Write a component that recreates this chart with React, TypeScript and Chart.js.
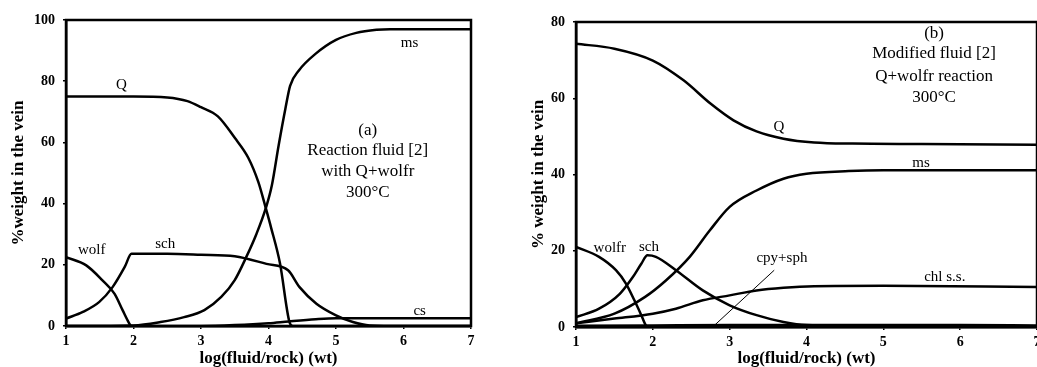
import React, { useEffect, useRef } from "react";
import { Chart, registerables } from "chart.js";
Chart.register(...registerables);

// ---------- Panel (a) data ----------
const aQx = [1, 2, 2.5, 2.8, 3.0, 3.25, 3.5, 3.7, 3.85, 3.96, 4.04, 4.17, 4.31, 4.36, 7];
const aQy = [75, 75, 74.7, 73.5, 71.5, 68.5, 61.5, 55, 47, 38.5, 32, 20.5, 1.3, 0, 0];
const aMsx = [1, 2, 2.4, 2.75, 3.05, 3.3, 3.5, 3.67, 3.82, 3.96, 4.05, 4.15, 4.25, 4.32, 4.45, 4.7, 5.0, 5.3, 5.6, 5.8, 7];
const aMsy = [0, 0.2, 1.3, 2.9, 5.2, 9.5, 15, 22.5, 30, 38.5, 46, 59, 71, 78.5, 83.5, 89, 93.5, 95.8, 96.8, 97, 97];
const aWolfx = [1, 1.3, 1.54, 1.72, 1.84, 1.93, 1.96];
const aWolfy = [22.5, 19.8, 14.9, 10.5, 5.1, 1.1, 0];
const aSchx = [1, 1.25, 1.49, 1.69, 1.87, 1.97, 2.5, 3.0, 3.5, 3.97, 4.29, 4.46, 4.71, 5.0, 5.25, 5.5, 6, 7];
const aSchy = [2.4, 4.6, 7.8, 12.7, 19.3, 23.6, 23.6, 23.3, 22.8, 20.3, 18.2, 12.7, 7.3, 3.5, 1.3, 0.2, 0, 0];
const aCsx = [1, 3, 3.5, 4, 4.3, 4.7, 5, 7];
const aCsy = [0, 0, 0.3, 0.9, 1.5, 2.2, 2.5, 2.5];

// ---------- Panel (b) data ----------
const bQx = [1, 1.5, 2.0, 2.4, 2.75, 3.05, 3.35, 3.7, 4.1, 4.6, 5.5, 7];
const bQy = [74.3, 73, 69.9, 64.7, 58.6, 54.2, 51.3, 49.4, 48.4, 48.1, 48, 47.8];
const bMsx = [1, 1.5, 1.9, 2.17, 2.48, 2.74, 3.0, 3.35, 3.7, 4.0, 4.55, 5.0, 7];
const bMsy = [1, 3.5, 7.9, 12.2, 18.4, 25.3, 31.5, 35.8, 38.9, 40.2, 40.9, 41.1, 41.1];
const bWolfrx = [1, 1.3, 1.52, 1.65, 1.76, 1.85, 1.91, 1.95];
const bWolfry = [21, 18.4, 14.9, 11.4, 7, 3.1, 0.4, 0];
const bSchx = [1, 1.3, 1.57, 1.74, 1.85, 1.93, 2.04, 2.3, 2.65, 3.0, 3.35, 3.7, 4.0, 5, 7];
const bSchy = [2.6, 4.8, 8.7, 13.1, 16.6, 18.8, 18.4, 14.9, 9.6, 5.7, 3.1, 1.3, 0.5, 0.3, 0.2];
const bChlx = [1, 1.5, 2.0, 2.3, 2.65, 3.0, 3.35, 3.7, 4.1, 5, 7];
const bChly = [1, 2.2, 3.5, 4.8, 7, 8.3, 9.6, 10.3, 10.7, 10.8, 10.5];
const bCpyx = [1, 2, 3, 4, 5, 6, 7];
const bCpyy = [0.3, 0.4, 0.5, 0.5, 0.5, 0.5, 0.4];

// ---------- Axis / text labels ----------
const xTitle = "log(fluid/rock) (wt)";
const aYTitle = "%weight in the vein";
const bYTitle = "% weight in the vein";
const aNote = ["(a)", "Reaction fluid [2]", "with Q+wolfr", "300°C"];
const bNote = ["(b)", "Modified fluid [2]", "Q+wolfr reaction", "300°C"];
const aCurveLabels = ["ms", "Q", "wolf", "sch", "cs"];
const bCurveLabels = ["Q", "ms", "wolfr", "sch", "cpy+sph", "chl s.s."];

const SERIF = "'Liberation Serif', 'Times New Roman', serif";

function pts(xs: number[], ys: number[]) {
  return xs.map((x, i) => ({ x, y: ys[i] }));
}

function ds(label: string, xs: number[], ys: number[]) {
  return {
    label,
    data: pts(xs, ys),
    borderColor: "#000",
    borderWidth: 2.5,
    pointRadius: 0,
    fill: false,
    cubicInterpolationMode: "monotone" as const,
  };
}

const boxText = {
  id: "boxText",
  afterDatasetsDraw(chart: any, _args: any, opts: any) {
    const { ctx, chartArea: a, scales } = chart;
    const x = scales.x;
    const y = scales.y;
    ctx.save();
    ctx.strokeStyle = "#000";
    ctx.lineWidth = 2.5;
    ctx.strokeRect(a.left, a.top, a.right - a.left, a.bottom - a.top);
    ctx.fillStyle = "#000";
    ctx.textAlign = "center";
    ctx.textBaseline = "middle";
    for (const t of opts.texts || []) {
      ctx.font = t.font;
      ctx.fillText(t.text, x.getPixelForValue(t.x), y.getPixelForValue(t.y));
    }
    for (const l of opts.lines || []) {
      ctx.lineWidth = 1;
      ctx.beginPath();
      ctx.moveTo(x.getPixelForValue(l[0]), y.getPixelForValue(l[1]));
      ctx.lineTo(x.getPixelForValue(l[2]), y.getPixelForValue(l[3]));
      ctx.stroke();
    }
    ctx.restore();
  },
};

function scalesCfg(yMax: number, yTitle: string, yWidth: number, xHeight: number, titlePad: number) {
  const grid = {
    display: true,
    drawOnChartArea: false,
    drawTicks: true,
    tickLength: 3,
    color: "#000",
    lineWidth: 1.5,
  };
  return {
    x: {
      type: "linear" as const,
      min: 1,
      max: 7,
      border: { display: true, color: "#000", width: 2.5 },
      grid,
      ticks: { stepSize: 1, color: "#000", padding: 4, font: { family: SERIF, size: 14, weight: "bold" as const } },
      title: { display: true, text: xTitle, color: "#000", padding: 0, font: { family: SERIF, size: 17, weight: "bold" as const, lineHeight: 1 } },
      afterFit: (s: any) => { s.height = xHeight; },
    },
    y: {
      type: "linear" as const,
      min: 0,
      max: yMax,
      border: { display: true, color: "#000", width: 2.5 },
      grid,
      ticks: { stepSize: 20, color: "#000", padding: 8, font: { family: SERIF, size: 14, weight: "bold" as const } },
      title: { display: true, text: yTitle, color: "#000", padding: { top: titlePad, bottom: 0 }, font: { family: SERIF, size: 17, weight: "bold" as const, lineHeight: 1 } },
      afterFit: (s: any) => { s.width = yWidth; },
    },
  };
}

const NOTE_FONT = "17px " + SERIF;
const LBL_FONT = "15px " + SERIF;

export default function App() {
  const aRef = useRef<HTMLCanvasElement>(null);
  const bRef = useRef<HTMLCanvasElement>(null);

  useEffect(() => {
    const chartA = new Chart(aRef.current as HTMLCanvasElement, {
      type: "line",
      data: {
        datasets: [
          ds("Q", aQx, aQy),
          ds("ms", aMsx, aMsy),
          ds("wolf", aWolfx, aWolfy),
          ds("sch", aSchx, aSchy),
          ds("cs", aCsx, aCsy),
        ],
      },
      plugins: [boxText],
      options: {
        responsive: false,
        animation: false,
        devicePixelRatio: 1,
        layout: { padding: { left: 0, top: 20, right: 46, bottom: 0 } },
        scales: scalesCfg(100, aYTitle, 66, 41, 10),
        plugins: {
          legend: { display: false },
          tooltip: { enabled: false },
          boxText: {
            texts: [
              { text: aNote[0], x: 5.47, y: 63.9, font: NOTE_FONT },
              { text: aNote[1], x: 5.47, y: 57.3, font: NOTE_FONT },
              { text: aNote[2], x: 5.47, y: 50.5, font: NOTE_FONT },
              { text: aNote[3], x: 5.47, y: 43.6, font: NOTE_FONT },
              { text: aCurveLabels[0], x: 6.09, y: 92.3, font: LBL_FONT },
              { text: aCurveLabels[1], x: 1.82, y: 78.9, font: LBL_FONT },
              { text: aCurveLabels[2], x: 1.38, y: 24.7, font: LBL_FONT },
              { text: aCurveLabels[3], x: 2.47, y: 26.7, font: LBL_FONT },
              { text: aCurveLabels[4], x: 6.24, y: 4.8, font: LBL_FONT },
            ],
          },
        } as any,
      },
    });

    const chartB = new Chart(bRef.current as HTMLCanvasElement, {
      type: "line",
      data: {
        datasets: [
          ds("Q", bQx, bQy),
          ds("ms", bMsx, bMsy),
          ds("wolfr", bWolfrx, bWolfry),
          ds("sch", bSchx, bSchy),
          ds("chl s.s.", bChlx, bChly),
          ds("cpy+sph", bCpyx, bCpyy),
        ],
      },
      plugins: [boxText],
      options: {
        responsive: false,
        animation: false,
        devicePixelRatio: 1,
        layout: { padding: { left: 0, top: 22, right: 40, bottom: 0 } },
        scales: scalesCfg(80, bYTitle, 59, 40, 13),
        plugins: {
          legend: { display: false },
          tooltip: { enabled: false },
          boxText: {
            texts: [
              { text: bNote[0], x: 5.66, y: 77.1, font: NOTE_FONT },
              { text: bNote[1], x: 5.66, y: 71.6, font: NOTE_FONT },
              { text: bNote[2], x: 5.66, y: 65.8, font: NOTE_FONT },
              { text: bNote[3], x: 5.66, y: 60.3, font: NOTE_FONT },
              { text: bCurveLabels[0], x: 3.64, y: 52.4, font: LBL_FONT },
              { text: bCurveLabels[1], x: 5.49, y: 42.9, font: LBL_FONT },
              { text: bCurveLabels[2], x: 1.44, y: 20.7, font: LBL_FONT },
              { text: bCurveLabels[3], x: 1.95, y: 20.9, font: LBL_FONT },
              { text: bCurveLabels[4], x: 3.68, y: 18.0, font: LBL_FONT },
              { text: bCurveLabels[5], x: 5.8, y: 13.0, font: LBL_FONT },
            ],
            lines: [[3.58, 14.9, 2.8, 0.4]],
          },
        } as any,
      },
    });

    return () => {
      chartA.destroy();
      chartB.destroy();
    };
  }, []);

  return (
    <div style={{ position: "absolute", left: 0, top: 0, width: 1037, height: 367, overflow: "hidden", background: "#fff" }}>
      <canvas ref={aRef} width={517} height={367} style={{ position: "absolute", left: 0, top: 0, display: "block" }} />
      <canvas ref={bRef} width={560} height={367} style={{ position: "absolute", left: 517, top: 0, display: "block" }} />
    </div>
  );
}
